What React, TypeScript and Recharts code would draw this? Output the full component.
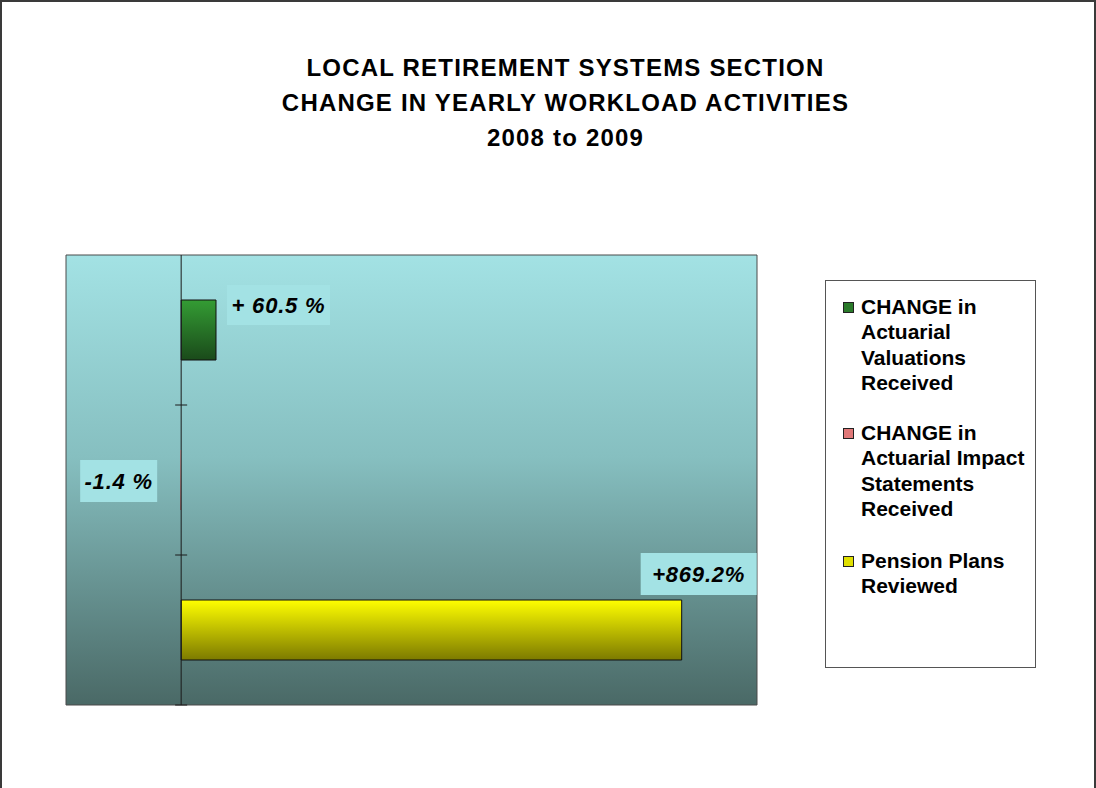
import React from 'react';
import { BarChart, Bar, XAxis, YAxis, CartesianGrid, LabelList, ReferenceLine, ReferenceArea } from 'recharts';

// categories, one bar per row
const categories = ['Actuarial Valuations', 'Actuarial Impact Statements', 'Pension Plans'];
const valuations = [60.5, null, null];
const impactStatements = [null, -1.4, null];
const pensionPlans = [null, null, 869.2];
const labelText = ['+ 60.5 %', '-1.4 %', '+869.2%'];

const seriesNames = [
  'CHANGE in Actuarial Valuations Received',
  'CHANGE in Actuarial Impact Statements Received',
  'Pension Plans Reviewed',
];
const legendLines = [
  ['CHANGE in', 'Actuarial', 'Valuations', 'Received'],
  ['CHANGE in', 'Actuarial Impact', 'Statements', 'Received'],
  ['Pension Plans', 'Reviewed'],
];
const legendColors = ['#2a7a2a', '#e07878', '#e0e000'];

const data = categories.map((c, i) => ({
  name: c,
  valuations: valuations[i],
  impact: impactStatements[i],
  plans: pensionPlans[i],
}));

const FONT = '"Liberation Sans", Arial, sans-serif';

const makeLabel = (text: string, dx: (x: number, w: number) => number, dy: (y: number, h: number) => number, bw: number, bh: number) =>
  (props: any) => {
    const { x, y, width, height, value } = props;
    if (value == null) return null;
    const bx = dx(Number(x), Number(width));
    const by = dy(Number(y), Number(height));
    return (
      <g>
        <rect x={bx} y={by} width={bw} height={bh} fill="#a3e2e4" />
        <text x={bx + bw / 2} y={by + bh / 2 + 8} textAnchor="middle" fontFamily={FONT} fontSize={22} fontWeight="bold" fontStyle="italic" letterSpacing={0.8} fill="#000">
          {text}
        </text>
      </g>
    );
  };

// zero line with small ticks at the category boundaries
const AxisWithTicks = (props: any) => {
  const { x1, y1, y2 } = props;
  const top = Math.min(y1, y2);
  const bottom = Math.max(y1, y2);
  const h = (bottom - top) / categories.length;
  const ticks = [0, 1, 2].map((k) => bottom - k * h);
  return (
    <g>
      <line x1={x1} y1={top} x2={x1} y2={bottom} stroke="#1a1a1a" strokeWidth={1} />
      {ticks.map((t) => (
        <line key={t} x1={x1 - 6} y1={t} x2={x1 + 6} y2={t} stroke="#1a1a1a" strokeWidth={1} />
      ))}
    </g>
  );
};

const LegendBox = () => (
  <div style={{ position: 'absolute', left: 825, top: 280, width: 209, height: 386, border: '1px solid #555', background: '#fff', fontFamily: FONT, fontWeight: 'bold', fontSize: 21, lineHeight: '25.3px', color: '#000' }}>
    {legendLines.map((lines, i) => (
      <div key={i} style={{ position: 'absolute', left: 17, top: [13, 139, 267][i] }} title={seriesNames[i]}>
        <span style={{ position: 'absolute', left: 0, top: 8, width: 9, height: 9, background: legendColors[i], border: '1px solid #222' }} />
        {lines.map((l) => (
          <div key={l} style={{ paddingLeft: 18, whiteSpace: 'nowrap' }}>{l}</div>
        ))}
      </div>
    ))}
  </div>
);

export default function App() {
  return (
    <div style={{ position: 'absolute', left: 0, top: 0, width: 1096, height: 788, background: '#fff', overflow: 'hidden' }}>
      <div style={{ position: 'absolute', left: 0, top: 0, width: 1092, height: 800, border: '2px solid #3a3a3a', borderBottom: 'none' }} />
      <div style={{ position: 'absolute', left: 0, top: 50, width: 1131, textAlign: 'center', fontFamily: FONT, fontWeight: 'bold', fontSize: 24, letterSpacing: 1.2, lineHeight: '35px', color: '#000' }}>
        <div>LOCAL RETIREMENT SYSTEMS SECTION</div>
        <div>CHANGE IN YEARLY WORKLOAD ACTIVITIES</div>
        <div>2008 to 2009</div>
      </div>
      <div style={{ position: 'absolute', left: 0, top: 0 }}>
        <BarChart
          width={1096}
          height={788}
          data={data}
          layout="vertical"
          margin={{ top: 255, right: 339, bottom: 83, left: 66 }}
          barSize={60}
        >
          <defs>
            <linearGradient id="bgGrad" x1="0" y1="0" x2="0" y2="1">
              <stop offset="0%" stopColor="#a3e2e4" />
              <stop offset="45%" stopColor="#86bfc0" />
              <stop offset="100%" stopColor="#4a6966" />
            </linearGradient>
            <linearGradient id="greenGrad" x1="0" y1="0" x2="0" y2="1">
              <stop offset="0%" stopColor="#349c34" />
              <stop offset="100%" stopColor="#1a4a1a" />
            </linearGradient>
            <linearGradient id="redGrad" x1="0" y1="0" x2="0" y2="1">
              <stop offset="0%" stopColor="#ff9999" />
              <stop offset="100%" stopColor="#a04040" />
            </linearGradient>
            <linearGradient id="yellowGrad" x1="0" y1="0" x2="0" y2="1">
              <stop offset="0%" stopColor="#ffff00" />
              <stop offset="100%" stopColor="#7c7a00" />
            </linearGradient>
          </defs>
          <CartesianGrid horizontal={false} vertical={false} fill="url(#bgGrad)" fillOpacity={1} />
          <XAxis type="number" domain={[-200, 1000]} hide />
          <YAxis type="category" dataKey="name" hide />
          <ReferenceArea x1={-200} x2={1000} fill="none" stroke="#4a4a4a" strokeWidth={1} ifOverflow="visible" />
          <Bar dataKey="valuations" name={seriesNames[0]} stackId="a" fill="url(#greenGrad)" stroke="#111" strokeWidth={1} isAnimationActive={false}>
            <LabelList dataKey="valuations" content={makeLabel(labelText[0], (x, w) => x + w + 11, (y) => y - 15, 103, 40)} />
          </Bar>
          <Bar dataKey="impact" name={seriesNames[1]} stackId="a" fill="url(#redGrad)" stroke="none" isAnimationActive={false}>
            <LabelList dataKey="impact" content={makeLabel(labelText[1], (x) => x - 101, (y) => y + 10, 77, 42)} />
          </Bar>
          <Bar dataKey="plans" name={seriesNames[2]} stackId="a" fill="url(#yellowGrad)" stroke="#111" strokeWidth={1} isAnimationActive={false}>
            <LabelList dataKey="plans" content={makeLabel(labelText[2], (x, w) => x + w - 41, (y) => y - 47, 116, 42)} />
          </Bar>
          <ReferenceLine x={0} shape={AxisWithTicks} ifOverflow="visible" />
        </BarChart>
      </div>
      <LegendBox />
    </div>
  );
}
